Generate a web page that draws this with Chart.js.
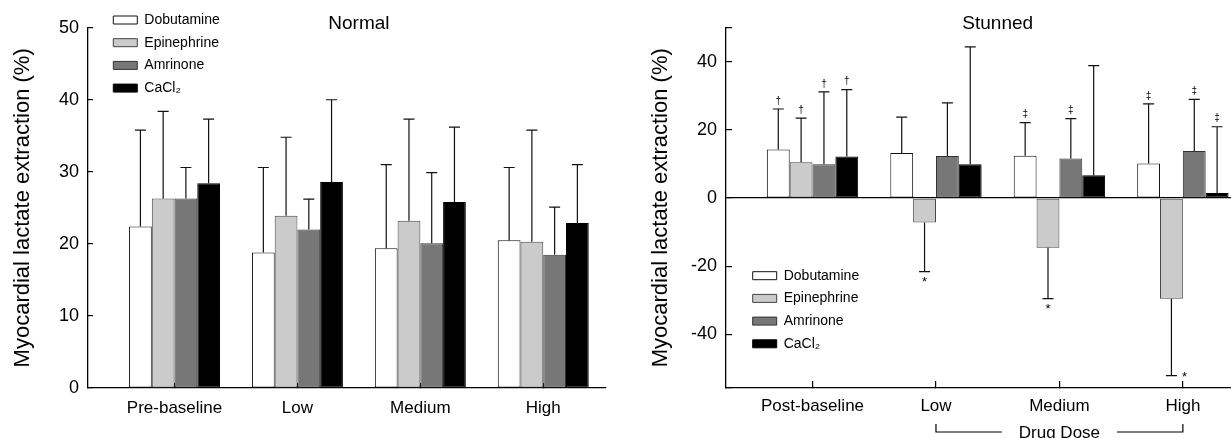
<!DOCTYPE html>
<html>
<head>
<meta charset="utf-8">
<script src="https://cdn.jsdelivr.net/npm/chart.js@4.4.0/dist/chart.umd.min.js"></script>
<style>
  html, body { margin: 0; padding: 0; background: #fff; }
  #wrap { position: relative; width: 1231px; height: 438px; overflow: hidden; }
  canvas { position: absolute; top: 0; }
  #normal { left: 0; }
  #stunned { left: 638px; }
</style>
</head>
<body>
<div id="wrap">
  <canvas id="normal" width="638" height="438"></canvas>
  <canvas id="stunned" width="593" height="438"></canvas>
</div>
<script>
'use strict';

// **** Data ****

let drugs = ['Dobutamine', 'Epinephrine', 'Amrinone', 'CaCl₂'];
let normalDoses = ['Pre-baseline', 'Low', 'Medium', 'High'];
let stunnedDoses = ['Post-baseline', 'Low', 'Medium', 'High'];
let yTitle = 'Myocardial lactate extraction (%)';

// Normal hearts: means and SD (one-sided error bars)
let normalDobutamine = [22.4, 18.8, 19.4, 20.5];
let normalEpinephrine = [26.3, 23.9, 23.2, 20.3];
let normalAmrinone = [26.3, 22.0, 20.1, 18.5];
let normalCaCl2 = [28.4, 28.6, 25.8, 22.9];

let normalDobutamineSD = [13.4, 11.8, 11.6, 10.1];
let normalEpinephrineSD = [12.1, 10.9, 14.1, 15.5];
let normalAmrinoneSD = [4.3, 4.2, 9.8, 6.6];
let normalCaCl2SD = [8.9, 11.4, 10.4, 8.1];

// Stunned hearts
let stunnedDobutamine = [14.2, 13.2, 12.4, 10.1];
let stunnedEpinephrine = [10.5, -7.2, -14.6, -29.5];
let stunnedAmrinone = [9.9, 12.3, 11.6, 13.8];
let stunnedCaCl2 = [12.2, 9.9, 6.7, 1.5];

let stunnedDobutamineSD = [11.9, 10.5, 9.7, 17.5];
let stunnedEpinephrineSD = [12.9, 14.4, 14.9, 22.6];
let stunnedAmrinoneSD = [21.2, 15.6, 11.7, 15.1];
let stunnedCaCl2SD = [19.6, 34.4, 32.1, 19.4];

// significance marks above / below the error bars
let stunnedDobutamineMarks = ['†', '', '‡', '‡'];
let stunnedEpinephrineMarks = ['†', '*', '*', '*'];
let stunnedAmrinoneMarks = ['†', '', '‡', '‡'];
let stunnedCaCl2Marks = ['†', '', '', '‡'];

let normalTicks = [0, 10, 20, 30, 40, 50];
let stunnedTicks = [-40, -20, 0, 20, 40];


// **** Styles ****

let fills = ['#ffffff', '#cbcbcb', '#777777', '#000000'];
let edges = ['#111111', '#444444', '#333333', '#000000'];

Chart.defaults.font.family = "'Liberation Sans', Arial, sans-serif";
Chart.defaults.color = '#000';


// **** Helpers ****

function makeDatasets(means, errors, marks){
  return drugs.map((name, i) => ({
    label: name,
    data: means[i].map((v, j) => ({x: j, y: v})),
    errors: errors[i],
    marks: marks ? marks[i] : null,
    backgroundColor: fills[i],
    borderColor: edges[i],
    borderWidth: 1,
    borderSkipped: false,
    categoryPercentage: 0.74,
    barPercentage: 1,
  }));
}

let errorBars = {
  id: 'errorBars',
  afterDatasetsDraw(chart){
    let ctx = chart.ctx;
    let yScale = chart.scales.y;
    ctx.save();
    ctx.strokeStyle = '#111';
    ctx.lineWidth = 1.2;
    chart.data.datasets.forEach((ds, i) => {
      let meta = chart.getDatasetMeta(i);
      meta.data.forEach((bar, j) => {
        let v = ds.data[j].y;
        let sign = v < 0 ? -1 : 1;
        let yEnd = yScale.getPixelForValue(v + sign * ds.errors[j]);
        ctx.beginPath();
        ctx.moveTo(bar.x, bar.y);
        ctx.lineTo(bar.x, yEnd);
        ctx.moveTo(bar.x - 5.5, yEnd);
        ctx.lineTo(bar.x + 5.5, yEnd);
        ctx.stroke();

        if(ds.marks && ds.marks[j]){
          let mark = ds.marks[j];
          ctx.fillStyle = '#000';
          ctx.textAlign = 'center';
          ctx.textBaseline = 'middle';
          if(mark === '*'){
            ctx.font = "13px 'Liberation Sans'";
            if(yEnd + 16 > chart.chartArea.bottom){
              ctx.fillText(mark, bar.x + 13, yEnd + 2);
            } else {
              ctx.fillText(mark, bar.x, yEnd + 11);
            }
          } else {
            ctx.font = "10px 'Liberation Sans'";
            ctx.fillText(mark, bar.x, yEnd - 8);
          }
        }
      });
    });
    ctx.restore();
  }
};

let panelTitle = {
  id: 'panelTitle',
  afterDraw(chart, args, opts){
    let ctx = chart.ctx;
    let x = chart.scales.x.getPixelForValue(1.5);
    ctx.save();
    ctx.font = "19px 'Liberation Sans'";
    ctx.fillStyle = '#000';
    ctx.textAlign = 'center';
    ctx.textBaseline = 'middle';
    ctx.fillText(opts.text, x, chart.chartArea.top - 4);
    ctx.restore();
  }
};

// moves the chartArea legend to where the figure has it
let legendMover = {
  id: 'legendMover',
  beforeDraw(chart, args, opts){
    chart.legend.left = opts.left;
    chart.legend.top = opts.top;
  }
};

let drugDose = {
  id: 'drugDose',
  afterDraw(chart){
    let ctx = chart.ctx;
    let xs = chart.scales.x;
    let x1 = xs.getPixelForValue(1);
    let x2 = xs.getPixelForValue(3);
    let mid = (x1 + x2) / 2;
    let yLine = chart.chartArea.bottom + 44;
    ctx.save();
    ctx.font = "17px 'Liberation Sans'";
    let half = ctx.measureText('Drug Dose').width / 2 + 17;
    ctx.strokeStyle = '#000';
    ctx.lineWidth = 1.2;
    ctx.beginPath();
    ctx.moveTo(x1, yLine - 8);
    ctx.lineTo(x1, yLine);
    ctx.lineTo(mid - half, yLine);
    ctx.moveTo(mid + half, yLine);
    ctx.lineTo(x2, yLine);
    ctx.lineTo(x2, yLine - 8);
    ctx.stroke();
    ctx.fillStyle = '#000';
    ctx.textAlign = 'center';
    ctx.textBaseline = 'alphabetic';
    ctx.fillText('Drug Dose', mid, chart.chartArea.bottom + 50);
    ctx.restore();
  }
};

function xAxis(labels, min, max, tickLen){
  return {
    type: 'linear',
    min: min,
    max: max,
    offset: false,
    grid: { offset: false, drawOnChartArea: false, tickLength: tickLen, tickColor: '#000', lineWidth: 1.2 },
    border: { color: '#000', width: 1.3 },
    ticks: {
      stepSize: 1,
      includeBounds: false,
      autoSkip: false,
      maxRotation: 0,
      padding: 15,
      font: { size: 17 },
      callback: (v) => (labels[v] !== undefined ? labels[v] : ''),
    },
    afterFit: (scale) => { scale.height = 50; },
  };
}

function yAxis(min, max, step, shown, tickLen){
  return {
    min: min,
    max: max,
    grid: {
      drawOnChartArea: true,
      tickLength: tickLen,
      tickColor: '#000',
      lineWidth: 1.2,
      color: (c) => (c.tick && c.tick.value === 0 && min < 0 ? '#000' : 'rgba(0,0,0,0)'),
    },
    border: { color: '#000', width: 1.3 },
    ticks: {
      stepSize: step,
      padding: 9 - tickLen,
      font: { size: 18 },
      callback: (v) => (shown.includes(v) ? v : ''),
    },
    title: { display: true, text: yTitle, font: { size: 22 }, padding: { top: 9.5, bottom: 0 } },
    afterFit: (scale) => { scale.width = 88; },
  };
}

function legendOpts(){
  return {
    position: 'chartArea',
    align: 'start',
    labels: { boxWidth: 24, boxHeight: 8, padding: 8.7, font: { size: 14 }, color: '#000' },
  };
}


// **** Executable Code ****

let normalChart = new Chart(document.getElementById('normal'), {
  type: 'bar',
  data: {
    datasets: makeDatasets(
      [normalDobutamine, normalEpinephrine, normalAmrinone, normalCaCl2],
      [normalDobutamineSD, normalEpinephrineSD, normalAmrinoneSD, normalCaCl2SD],
      null)
  },
  options: {
    responsive: false,
    animation: false,
    devicePixelRatio: 1,
    layout: { padding: { left: 0, top: 27.7, right: 32.3, bottom: 0 } },
    scales: {
      x: xAxis(normalDoses, -0.704, 3.508, -5),
      y: yAxis(0, 50, 10, normalTicks, -5),
    },
    plugins: {
      legend: legendOpts(),
      legendMover: { left: 104.6, top: 4.3 },
      panelTitle: { text: 'Normal' },
      tooltip: { enabled: false },
    }
  },
  plugins: [errorBars, panelTitle, legendMover]
});

let stunnedChart = new Chart(document.getElementById('stunned'), {
  type: 'bar',
  data: {
    datasets: makeDatasets(
      [stunnedDobutamine, stunnedEpinephrine, stunnedAmrinone, stunnedCaCl2],
      [stunnedDobutamineSD, stunnedEpinephrineSD, stunnedAmrinoneSD, stunnedCaCl2SD],
      [stunnedDobutamineMarks, stunnedEpinephrineMarks, stunnedAmrinoneMarks, stunnedCaCl2Marks])
  },
  options: {
    responsive: false,
    animation: false,
    devicePixelRatio: 1,
    layout: { padding: { left: 0, top: 27.5, right: 0, bottom: 0 } },
    scales: {
      x: xAxis(stunnedDoses, -0.701, 3.39, -7),
      y: yAxis(-55.7, 50, 20, stunnedTicks, -6),
    },
    plugins: {
      legend: legendOpts(),
      legendMover: { left: 106, top: 260 },
      panelTitle: { text: 'Stunned' },
      tooltip: { enabled: false },
    }
  },
  plugins: [errorBars, panelTitle, legendMover, drugDose]
});
</script>
</body>
</html>
